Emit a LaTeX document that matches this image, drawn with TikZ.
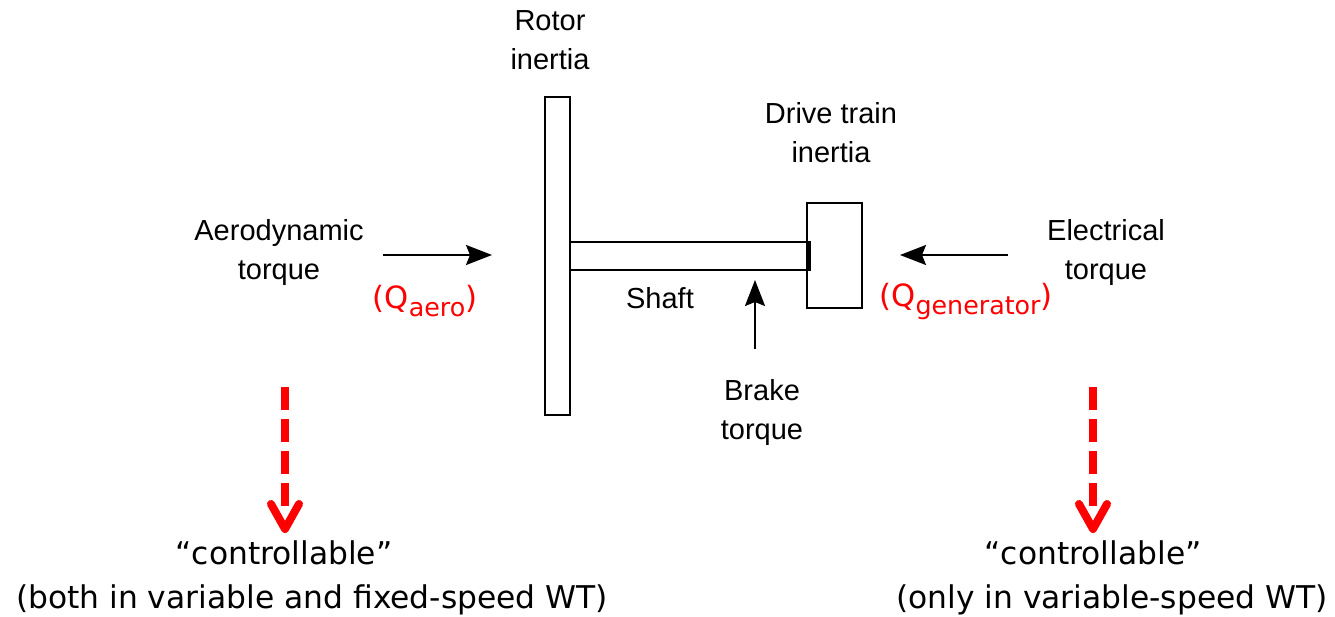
\documentclass[tikz,border=0pt]{standalone}
\usepackage{fontspec}
\setmainfont{Liberation Sans}
\newfontfamily\capfont{DejaVu Sans}
\usetikzlibrary{arrows.meta}
\tikzset{
  lbl/.style={font=\fontsize{21.75}{29.25}\selectfont, align=center, inner sep=0pt},
  qlbl/.style={font=\capfont\fontsize{23}{27}\selectfont, text=red, inner sep=0pt},
  note/.style={font=\capfont\fontsize{23.5}{33.5}\selectfont, align=center, inner sep=0pt},
  part/.style={draw, line width=1.5pt, inner sep=0pt},
  torque/.style={line width=1.5pt, -{Stealth[length=19.5pt, width=15pt, inset=3pt]}},
  ctrl/.style={draw=red, line width=6pt, dash pattern=on 17.25pt off 6.75pt},
  chev/.style={draw=red, line width=6pt, line cap=round, line join=round},
}
\newcommand{\qsub}[1]{\raisebox{-6pt}{\fontsize{19}{19}\selectfont #1}}
\begin{document}
\begin{tikzpicture}[x=0.75pt,y=-0.75pt]
\useasboundingbox (0,0) rectangle (1335,617);
% mechanical parts
\node[part, minimum width=18.75pt, minimum height=238.5pt] (rotor) at (557.5,256) {};
\node[part, minimum width=178.5pt, minimum height=21pt] (shaft) at (689,256) {};
\node[part, minimum width=41.25pt, minimum height=78.75pt] (drive) at (834.5,255.5) {};
\draw[line width=3pt] (shaft.north east) -- (shaft.south east);
% labels
\node[lbl] (rotorlbl) at (550,40) {Rotor\\inertia};
\node[lbl] (drivelbl) at (831,133) {Drive train\\inertia};
\node[lbl] (aerolbl) at (279,253) {Aerodynamic\\torque};
\node[lbl] (eleclbl) at (1106,253) {Electrical\\torque};
\node[lbl] (shaftlbl) at (660,298) {Shaft};
\node[lbl] (brakelbl) at (762,412) {Brake\\torque};
\node[qlbl] (qaero) at (425,301) {(Q\qsub{aero})};
\node[qlbl] (qgen) at (966,301) {(Q\qsub{generator})};
% torque arrows
\coordinate (a1) at (383,255); \coordinate (a2) at (492,255);
\coordinate (e1) at (1008,255); \coordinate (e2) at (900,255);
\coordinate (b1) at (755,349); \coordinate (b2) at (755,280);
\draw[torque] (a1) -- (a2);
\draw[torque] (e1) -- (e2);
\draw[torque] (b1) -- (b2);
% controllable arrows
\coordinate (l1) at (285,387); \coordinate (l2) at (285,506); \coordinate (ltip) at (285,529);
\coordinate (r1) at (1093,387); \coordinate (r2) at (1093,506); \coordinate (rtip) at (1093,529);
\draw[ctrl] (l1) -- (l2);
\draw[chev] (ltip) ++(-14,-25) -- (ltip) -- ++(14,-25);
\draw[ctrl] (r1) -- (r2);
\draw[chev] (rtip) ++(-14,-25) -- (rtip) -- ++(14,-25);
% notes
\node[note] (lnote) at (312,578) {“controllable”\hspace*{42pt}\\(both in variable and fixed-speed WT)};
\node[note] (rnote) at (1112,578) {“controllable”\hspace*{28.5pt}\\(only in variable-speed WT)};
\end{tikzpicture}
\end{document}
